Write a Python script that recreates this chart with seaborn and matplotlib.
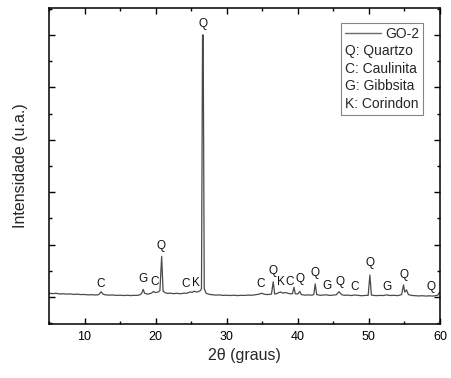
import matplotlib
matplotlib.use("Agg")
import matplotlib.pyplot as plt
from matplotlib.ticker import MultipleLocator, NullFormatter
from matplotlib.lines import Line2D
import seaborn as sns
import pandas as pd

# ---- data (2theta in degrees, intensity in a.u.) ----
two_theta = [5.0, 5.5, 6.0, 6.5, 7.0, 7.5, 8.0, 8.5, 9.0, 9.5, 10.0, 10.5, 11.0,
             11.5, 11.9, 12.1, 12.35, 12.6, 12.9, 13.4, 14.0, 14.5, 15.0, 15.5,
             16.0, 16.5, 17.0, 17.4, 17.8, 18.05, 18.25, 18.45, 18.8, 19.1, 19.4,
             19.7, 19.95, 20.3, 20.6, 20.85, 21.05, 21.4, 21.7, 22.0, 22.5, 23.0,
             23.5, 24.0, 24.3, 24.6, 24.9, 25.15, 25.4, 25.6, 25.9, 26.1, 26.3,
             26.45, 26.6, 26.69, 26.84, 27.1, 27.5, 28.0, 28.5, 29.0, 29.5, 30.0,
             30.5, 31.0, 31.5, 32.0, 32.5, 33.0, 33.5, 34.0, 34.5, 34.9, 35.3,
             35.8, 36.3, 36.54, 36.75, 37.0, 37.3, 37.6, 37.9, 38.2, 38.5, 38.9,
             39.25, 39.46, 39.65, 40.0, 40.28, 40.5, 41.0, 41.5, 42.0, 42.25,
             42.45, 42.65, 43.2, 43.6, 44.0, 44.5, 45.0, 45.4, 45.8, 46.2, 46.6,
             47.0, 47.5, 48.0, 48.5, 49.0, 49.5, 49.9, 50.14, 50.35, 50.7, 51.0,
             51.5, 52.0, 52.5, 53.0, 53.5, 54.0, 54.3, 54.6, 54.87, 55.05, 55.3,
             55.55, 56.0, 56.5, 57.0, 57.5, 58.0, 58.5, 59.0, 59.4, 59.7, 59.95,
             60.0]
intensity = [72, 64, 70, 58, 62, 55, 58, 50, 54, 46, 48, 40, 44,
             38, 42, 58, 100, 55, 42, 36, 38, 30, 34, 28,
             33, 27, 32, 30, 42, 72, 145, 72, 55, 62, 72,
             105, 85, 92, 120, 775, 110, 78, 68, 74, 64, 70,
             62, 74, 70, 82, 97, 86, 112, 100, 96, 108, 122,
             160, 5000, 5000, 160, 72, 52, 42, 36, 40, 30, 34,
             28, 34, 27, 32, 30, 36, 33, 42, 52, 72, 52,
             46, 56, 290, 56, 62, 82, 96, 72, 86, 76, 60,
             64, 185, 62, 57, 106, 46, 36, 40, 34, 46,
             250, 46, 32, 38, 42, 30, 36, 42, 100, 42, 32,
             36, 28, 38, 30, 24, 30, 32, 420, 36, 30, 26,
             30, 28, 40, 28, 32, 26, 34, 46, 230, 92, 135,
             46, 30, 24, 20, 24, 18, 22, 18, 26, 36, 95,
             60]

# phase labels: text, x (2theta), y (a.u.)
label_text = ["C", "G", "C", "Q", "C", "K", "Q", "C", "Q", "K", "C", "Q", "Q",
              "G", "Q", "C", "Q", "G", "Q", "Q"]
label_x = [12.2, 18.2, 19.8, 20.8, 24.2, 25.7, 26.7, 34.8, 36.5, 37.6, 38.8,
           40.3, 42.4, 44.1, 45.9, 48.0, 50.1, 52.6, 55.0, 58.8]
label_y = [248, 343, 286, 973, 248, 267, 5209, 248, 496, 286, 286, 343, 458,
           210, 286, 191, 649, 191, 420, 191]

legend_series = "GO-2"
legend_phases = ["Q: Quartzo", "C: Caulinita", "G: Gibbsita", "K: Corindon"]

df = pd.DataFrame({"2theta": two_theta, "I": intensity})

sns.set_style("ticks")
plt.rcParams["font.family"] = ["Liberation Sans", "DejaVu Sans"]

fig = plt.figure(figsize=(4.51, 3.78), dpi=100)
ax = fig.add_axes([0.1086, 0.1429, 0.867, 0.836])

line_color = "#4a4a4a"
sns.lineplot(data=df, x="2theta", y="I", ax=ax, color=line_color, lw=0.9,
             estimator=None, sort=False, label=legend_series)

for t, x, y in zip(label_text, label_x, label_y):
    ax.text(x, y, t, ha="center", va="center", fontsize=8.5, color="#111111")

ax.set_xlim(5, 60)
ax.set_ylim(-515, 5515)
ax.xaxis.set_major_locator(MultipleLocator(10))
ax.xaxis.set_minor_locator(MultipleLocator(5))
ax.yaxis.set_major_locator(MultipleLocator(1000))
ax.yaxis.set_minor_locator(MultipleLocator(500))
ax.yaxis.set_major_formatter(NullFormatter())
ax.tick_params(which="both", direction="in", top=True, right=True,
               colors="black", width=1.0)
ax.tick_params(which="major", length=4.5, labelsize=9, pad=5)
ax.tick_params(which="minor", length=2.5)
for s in ax.spines.values():
    s.set_linewidth(1.1)
    s.set_color("black")

ax.set_xlabel("2θ (graus)", fontsize=11.5, labelpad=4)
ax.set_ylabel("Intensidade (u.a.)", fontsize=11.5, labelpad=10)

handles = [Line2D([], [], color="#6a6a6a", lw=1.0)] + \
          [Line2D([], [], color="none") for _ in legend_phases]
labels = [legend_series] + legend_phases
leg = ax.legend(handles, labels, loc="upper right", bbox_to_anchor=(0.957, 0.954),
                borderaxespad=0, fontsize=10, frameon=True, fancybox=False,
                handlelength=2.6, handletextpad=0.25, labelspacing=0.25,
                borderpad=0.3)
leg.get_frame().set_edgecolor("#666666")
leg.get_frame().set_linewidth(0.8)
# phase rows have no handle: remove their indentation
rows = leg._legend_handle_box.get_children()[0].get_children()
for row in rows[1:]:
    row.get_children()[0].width = 0
    row.sep = 0

fig.savefig("out.png", dpi=100)
